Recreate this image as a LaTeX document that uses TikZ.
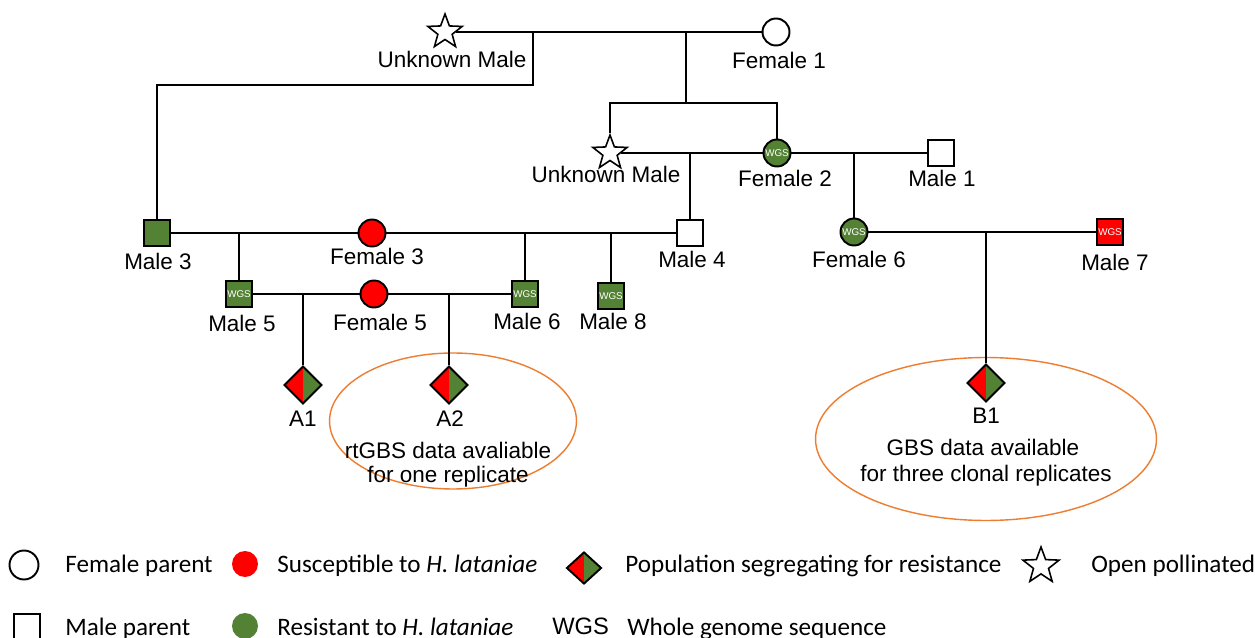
\documentclass[tikz,border=0pt]{standalone}
\usepackage{fontspec}
\setmainfont{Liberation Sans}
\newfontfamily\keyfamily{Carlito}
\usetikzlibrary{shapes.geometric}

\definecolor{resgreen}{HTML}{548235}
\definecolor{susred}{HTML}{FF0000}
\definecolor{noteorange}{HTML}{ED7D31}

\newcommand\tagfont{\fontsize{12.8}{15}\selectfont}
\newcommand\wgsfont{\fontsize{5.6}{6}\selectfont}
\newcommand\keyfont{\keyfamily\fontsize{14.3}{16}\selectfont}

\begin{document}
\begin{tikzpicture}[x=0.02cm, y=-0.02cm]

\tikzset{famline/.style={line width=1.1pt}}
\tikzset{femalebox/.style={circle, draw, line width=1.1pt, minimum size=0.54cm, inner sep=0pt, fill=white}}
\tikzset{malebox/.style={rectangle, draw, line width=1.1pt, minimum size=0.52cm, inner sep=0pt, fill=white}}
\tikzset{openbox/.style={star, star points=5, star point ratio=2.4, draw, line width=0.9pt, minimum size=0.72cm, inner sep=0pt, fill=white}}
\tikzset{crossbox/.style={diamond, draw, line width=1.1pt, minimum size=0.76cm, inner sep=0pt,
  path picture={\fill[susred] (path picture bounding box.south west) rectangle (path picture bounding box.north);
                \fill[resgreen] (path picture bounding box.south) rectangle (path picture bounding box.north east);}}}
\tikzset{wgs/.style={font=\wgsfont, text=white}}
\tikzset{tag/.style={anchor=base, font=\tagfont, inner sep=0pt}}
\tikzset{notebox/.style={ellipse, draw=noteorange, line width=0.8pt, inner sep=0pt}}
\tikzset{notetext/.style={anchor=base, font=\tagfont, inner sep=0pt}}
\tikzset{keytext/.style={anchor=base west, font=\keyfont, inner sep=0pt}}

\path[use as bounding box, fill=white] (0,0) rectangle (1255,638);

% notes round the crosses
\node[notebox, minimum width=4.94cm, minimum height=2.72cm] at (453,421) (a2note) {};
\node[notebox, minimum width=6.82cm, minimum height=3.26cm] at (986,439) (b1note) {};

% first generation
\node[openbox] at (445,32) (um1) {};
\node[femalebox] at (776,32) (f1) {};
\node[tag] at (452,68) (um1l) {Unknown Male};
\node[tag] at (779,69) (f1l) {Female 1};

% second generation
\node[openbox] at (610,153) (um2) {};
\node[femalebox, fill=resgreen, wgs] at (777,153) (f2) {WGS};
\node[malebox] at (941,153) (m1) {};
\node[tag] at (606,183) (um2l) {Unknown Male};
\node[tag] at (785,187) (f2l) {Female 2};
\node[tag] at (942,187) (m1l) {Male 1};

% third generation
\node[malebox, fill=resgreen] at (157,233) (m3) {};
\node[femalebox, fill=susred] at (372,233) (f3) {};
\node[malebox] at (690,233) (m4) {};
\node[femalebox, fill=resgreen, wgs] at (854,232) (f6) {WGS};
\node[malebox, fill=susred, wgs] at (1110,232) (m7) {WGS};
\node[tag] at (158,270) (m3l) {Male 3};
\node[tag] at (377,265) (f3l) {Female 3};
\node[tag] at (692,268) (m4l) {Male 4};
\node[tag] at (859,268) (f6l) {Female 6};
\node[tag] at (1115,271) (m7l) {Male 7};

% fourth generation
\node[malebox, fill=resgreen, wgs] at (239,294) (m5) {WGS};
\node[femalebox, fill=susred] at (374,294) (f5) {};
\node[malebox, fill=resgreen, wgs] at (525,294) (m6) {WGS};
\node[malebox, fill=resgreen, wgs] at (611,296) (m8) {WGS};
\node[tag] at (242,332) (m5l) {Male 5};
\node[tag] at (380,331) (f5l) {Female 5};
\node[tag] at (527,330) (m6l) {Male 6};
\node[tag] at (613,330) (m8l) {Male 8};

% segregating populations
\node[crossbox] at (303,385) (a1) {};
\node[crossbox] at (449,385) (a2) {};
\node[crossbox] at (986,383) (b1) {};
\node[tag] at (303,427) (a1l) {A1};
\node[tag] at (450,427) (a2l) {A2};
\node[tag] at (986,424) (b1l) {B1};
\node[notetext] at (448,459) (a2t1) {rtGBS data avaliable};
\node[notetext] at (448,483) (a2t2) {for one replicate};
\node[notetext] at (983,456) (b1t1) {GBS data available};
\node[notetext] at (986,482) (b1t2) {for three clonal replicates};

% junctions
\coordinate (j1) at (533,32);
\coordinate (j2) at (686,32);
\coordinate (j3) at (686,103);
\coordinate (j4) at (690,153);
\coordinate (j5) at (854,153);
\coordinate (j6) at (239,233);
\coordinate (j7) at (525,233);
\coordinate (j8) at (611,233);
\coordinate (j9) at (986,232);
\coordinate (j10) at (303,294);
\coordinate (j11) at (449,294);

% matings and descent
\draw[famline] (um1) -- (f1);
\draw[famline] (j1) -- ++(0,53) -| (m3);
\draw[famline] (j2) -- (j3);
\draw[famline] (um2) |- (j3) -| (f2);
\draw[famline] (um2) -- (f2);
\draw[famline] (f2) -- (m1);
\draw[famline] (j4) -- (m4);
\draw[famline] (j5) -- (f6);
\draw[famline] (m3) -- (f3);
\draw[famline] (f3) -- (m4);
\draw[famline] (j6) -- (m5);
\draw[famline] (j7) -- (m6);
\draw[famline] (j8) -- (m8);
\draw[famline] (f6) -- (m7);
\draw[famline] (j9) -- (b1);
\draw[famline] (m5) -- (f5);
\draw[famline] (f5) -- (m6);
\draw[famline] (j10) -- (a1);
\draw[famline] (j11) -- (a2);

% key
\node[femalebox, minimum size=0.58cm] at (24,565) (kfemale) {};
\node[keytext] at (65,573) (kfemalel) {Female parent};
\node[circle, fill=susred, minimum size=0.52cm, inner sep=0pt] at (245,564) (ksus) {};
\node[keytext] at (277,573) (ksusl) {Susceptible to \textit{H. lataniae}};
\node[crossbox, minimum size=0pt, minimum width=0.7cm, minimum height=0.64cm] at (584,568) (kcross) {};
\node[keytext] at (625,573) (kcrossl) {Population segregating for resistance};
\node[openbox, minimum size=0.76cm] at (1041,566) (kopen) {};
\node[keytext] at (1091,573) (kopenl) {Open pollinated};
\node[malebox] at (27,627) (kmale) {};
\node[keytext] at (65,635) (kmalel) {Male parent};
\node[circle, fill=resgreen, minimum size=0.52cm, inner sep=0pt] at (245,626) (kres) {};
\node[keytext] at (277,635) (kresl) {Resistant to \textit{H. lataniae}};
\node[anchor=base west, inner sep=0pt, font=\fontsize{13.5}{15}\selectfont] at (552,634) (kwgs) {WGS};
\node[keytext] at (627,635) (kwgsl) {Whole genome sequence};

\end{tikzpicture}
\end{document}
